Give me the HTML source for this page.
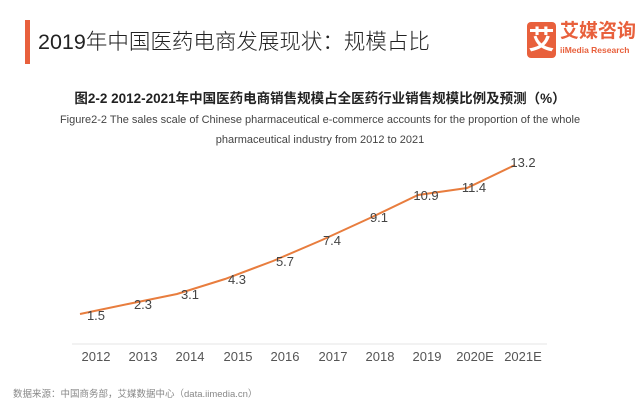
<!DOCTYPE html>
<html><head><meta charset="utf-8"><style>
body{margin:0;background:#fff;}
.w{position:relative;width:640px;height:401px;overflow:hidden;font-family:"Liberation Sans","Noto Sans CJK SC",sans-serif;}
</style></head><body><div class="w">
<div style="position:absolute;left:25px;top:20px;width:5px;height:44px;background:#e8603c"></div>
<div style="position:absolute;left:38px;top:20px;font-size:21.5px;color:#222;line-height:44px;font-weight:300">2019年中国医药电商发展现状：规模占比</div>
<div style="position:absolute;left:527px;top:22px;width:29px;height:36px;background:#e8603c;border-radius:4px;color:#fff;font-size:26px;line-height:36px;text-align:center;font-weight:bold">艾</div>
<div style="position:absolute;left:560px;top:20px;font-size:19px;color:#e8603c;font-weight:bold;line-height:24px">艾媒咨询</div>
<div style="position:absolute;left:560px;top:44px;font-size:8.5px;color:#e8603c;line-height:12px;font-weight:bold">iiMedia Research</div>
<div style="position:absolute;left:0;width:640px;top:87px;text-align:center;font-size:13.5px;font-weight:bold;color:#222">图2-2 2012-2021年中国医药电商销售规模占全医药行业销售规模比例及预测（%）</div>
<div style="position:absolute;left:0;width:640px;top:110px;text-align:center;font-size:11px;color:#444;line-height:20px">Figure2-2 The sales scale of Chinese pharmaceutical e-commerce accounts for the proportion of the whole<br>pharmaceutical industry from 2012 to 2021</div>
<svg width="640" height="401" style="position:absolute;left:0;top:0">
<line x1="72" y1="344" x2="547" y2="344" stroke="#e6e6e6"/>
<polyline fill="none" stroke="#e87d3e" stroke-width="2" points="80,314 128,304 177,294 225,279 273,261 322,240 370,218 418,195 467,188 515,165"/>
<g font-size="13" fill="#444" text-anchor="middle" font-family="Liberation Sans,sans-serif">
<text x="96" y="320">1.5</text><text x="143" y="309">2.3</text><text x="190" y="299">3.1</text><text x="237" y="284">4.3</text><text x="285" y="266">5.7</text><text x="332" y="245">7.4</text><text x="379" y="222">9.1</text><text x="426" y="200">10.9</text><text x="474" y="192">11.4</text><text x="523" y="167">13.2</text>
</g>
<g font-size="13" fill="#555" text-anchor="middle" font-family="Liberation Sans,sans-serif">
<text x="96" y="361">2012</text><text x="143" y="361">2013</text><text x="190" y="361">2014</text><text x="238" y="361">2015</text><text x="285" y="361">2016</text><text x="333" y="361">2017</text><text x="380" y="361">2018</text><text x="427" y="361">2019</text><text x="475" y="361">2020E</text><text x="523" y="361">2021E</text>
</g>
</svg>
<div style="position:absolute;left:13px;top:386px;font-size:9.5px;color:#888">数据来源：中国商务部，艾媒数据中心（data.iimedia.cn）</div>
</div></body></html>
